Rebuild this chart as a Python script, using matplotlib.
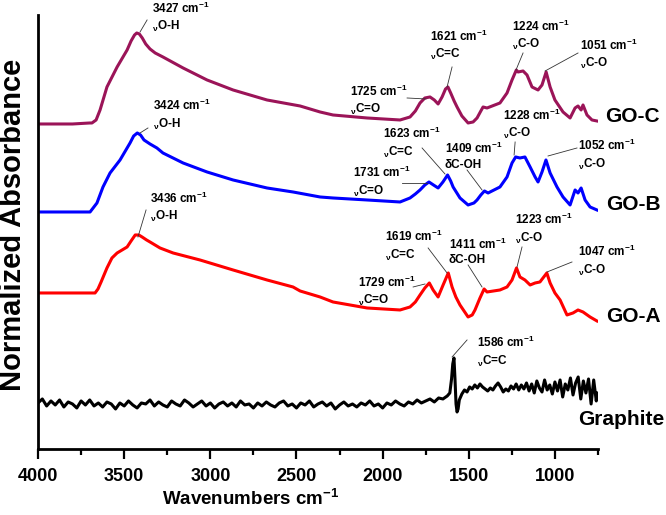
import matplotlib
matplotlib.use("Agg")
import matplotlib.pyplot as plt

plt.rcParams['font.family'] = ['Liberation Sans', 'DejaVu Sans']
plt.rcParams['font.weight'] = 'bold'
plt.rcParams['mathtext.fontset'] = 'custom'
plt.rcParams['mathtext.rm'] = 'Liberation Sans:bold'
plt.rcParams['mathtext.it'] = 'Liberation Sans:bold'
plt.rcParams['mathtext.bf'] = 'Liberation Sans:bold'

# Spectra (wavenumber in cm-1, stacked normalized absorbance)
goc_wn = [4000, 3800, 3700, 3687, 3663, 3640, 3600, 3541, 3483, 3460, 3440, 3427,
          3412, 3395, 3375, 3350, 3320, 3275, 3158, 3019, 2868, 2671, 2479, 2363,
          2288, 2090, 1899, 1841, 1810, 1783, 1755, 1725, 1700, 1678, 1655, 1635,
          1621, 1605, 1585, 1568, 1540, 1504, 1475, 1452, 1430, 1417, 1394, 1319,
          1278, 1249, 1224, 1214, 1185, 1162, 1133, 1098, 1075, 1051, 1028, 1000,
          953, 912, 883, 866, 848, 837, 814, 785, 756]
goc_abs = [32.5, 32.5, 32.6, 32.6, 32.9, 33.9, 36.2, 38.2, 39.9, 40.8, 41.4, 41.6,
           41.5, 41.1, 40.5, 40.0, 39.6, 39.2, 38.1, 36.9, 35.9, 34.9, 34.3, 33.7,
           33.4, 33.1, 32.9, 33.2, 33.8, 34.6, 35.1, 35.2, 34.9, 34.5, 35.2, 36.0,
           36.2, 35.6, 34.8, 34.2, 33.3, 32.6, 32.7, 33.1, 33.8, 34.2, 34.1, 34.6,
           35.6, 36.9, 37.9, 37.7, 37.8, 37.4, 36.2, 35.9, 36.4, 37.7, 36.2, 34.9,
           33.7, 33.1, 34.1, 34.3, 33.9, 34.4, 33.4, 32.9, 32.8]

gob_wn = [4000, 3800, 3698, 3658, 3623, 3582, 3524, 3466, 3445, 3424, 3405, 3385,
          3350, 3310, 3275, 3158, 3019, 2868, 2671, 2520, 2363, 2288, 2090, 1899,
          1841, 1810, 1783, 1755, 1731, 1705, 1678, 1650, 1623, 1605, 1591, 1551,
          1504, 1470, 1452, 1430, 1409, 1388, 1319, 1278, 1249, 1228, 1203, 1174,
          1144, 1115, 1098, 1075, 1052, 1028, 988, 953, 912, 883, 866, 848, 825,
          796, 756]
gob_abs = [23.7, 23.7, 23.7, 24.6, 26.2, 27.6, 28.9, 30.6, 31.3, 31.6, 31.4, 30.9,
           30.5, 30.1, 29.6, 28.6, 27.7, 26.9, 26.1, 25.7, 25.2, 25.1, 24.9, 24.7,
           25.1, 25.5, 25.9, 26.4, 26.7, 26.4, 26.1, 26.7, 27.4, 26.8, 26.2, 25.1,
           24.4, 24.6, 24.9, 25.4, 25.8, 25.6, 26.2, 27.2, 28.6, 29.2, 29.1, 29.2,
           28.2, 27.2, 26.7, 27.7, 28.9, 27.6, 26.2, 25.2, 24.4, 25.9, 25.6, 26.1,
           24.9, 24.2, 23.9]

goa_wn = [4000, 3800, 3669, 3652, 3634, 3617, 3600, 3571, 3541, 3483, 3460, 3436,
          3415, 3396, 3370, 3350, 3292, 3216, 3060, 2868, 2671, 2520, 2479, 2363,
          2288, 2090, 1899, 1841, 1810, 1783, 1755, 1729, 1707, 1678, 1649, 1619,
          1597, 1575, 1551, 1504, 1480, 1464, 1435, 1411, 1394, 1319, 1278, 1249,
          1223, 1203, 1174, 1144, 1115, 1087, 1047, 1028, 1000, 970, 930, 895,
          866, 837, 796, 756]
goa_abs = [15.6, 15.6, 15.6, 16.0, 16.7, 17.4, 18.1, 19.1, 19.6, 20.2, 20.8, 21.4,
           21.4, 21.2, 20.9, 20.7, 20.1, 19.6, 18.9, 17.9, 16.9, 16.2, 15.8, 15.2,
           14.7, 14.1, 13.9, 14.2, 14.7, 15.4, 16.1, 16.6, 15.9, 15.2, 16.4, 17.6,
           16.2, 15.2, 14.4, 13.2, 13.4, 13.9, 15.1, 16.0, 15.7, 15.9, 16.2, 16.9,
           18.1, 17.2, 16.9, 16.4, 16.6, 16.7, 17.6, 16.6, 15.6, 14.9, 13.4, 13.6,
           13.9, 13.7, 13.2, 12.8]

gr_wn = [4000, 3975, 3950, 3925, 3900, 3875, 3850, 3825, 3800, 3775, 3750, 3725,
         3700, 3675, 3650, 3625, 3600, 3575, 3550, 3525, 3500, 3475, 3450, 3425,
         3400, 3375, 3350, 3325, 3300, 3275, 3250, 3225, 3200, 3175, 3150, 3125,
         3100, 3075, 3050, 3025, 3000, 2975, 2950, 2925, 2900, 2875, 2850, 2825,
         2800, 2775, 2750, 2725, 2700, 2675, 2650, 2625, 2600, 2575, 2550, 2525,
         2500, 2475, 2450, 2425, 2400, 2375, 2350, 2325, 2300, 2275, 2250, 2225,
         2200, 2175, 2150, 2125, 2100, 2075, 2050, 2025, 2000, 1975, 1950, 1925,
         1900, 1875, 1850, 1825, 1800, 1775, 1750, 1725, 1700, 1675, 1650, 1625,
         1610, 1600, 1593, 1586, 1580, 1574, 1568, 1562, 1555, 1540, 1525, 1510,
         1495, 1480, 1465, 1450, 1435, 1420, 1405, 1390, 1375, 1360, 1345, 1330,
         1315, 1300, 1285, 1270, 1255, 1240, 1225, 1210, 1195, 1180, 1165, 1150,
         1135, 1120, 1105, 1090, 1075, 1060, 1045, 1030, 1015, 1000, 985, 970,
         955, 940, 925, 910, 895, 880, 865, 850, 835, 820, 805, 790, 775, 760, 755]
gr_abs = [4.6, 5.0, 4.3, 4.8, 4.4, 4.9, 4.2, 4.7, 4.5, 4.1, 4.8, 4.4,
          4.9, 4.3, 4.6, 4.2, 4.7, 4.5, 4.0, 4.6, 4.3, 4.8, 4.4, 4.1,
          4.6, 4.5, 4.9, 4.3, 4.7, 4.4, 4.2, 4.8, 4.5, 4.3, 4.9, 4.6,
          4.2, 4.5, 4.8, 4.3, 4.6, 4.1, 4.5, 4.7, 4.3, 4.6, 4.2, 4.8,
          4.4, 4.5, 4.1, 4.6, 4.3, 4.7, 4.4, 4.2, 4.6, 4.8, 4.3, 4.5,
          4.1, 4.6, 4.4, 4.8, 4.2, 4.5, 4.7, 4.3, 4.6, 4.0, 4.4, 4.7,
          4.3, 4.5, 4.2, 4.6, 4.4, 4.8, 4.3, 4.5, 4.1, 4.6, 4.4, 4.8,
          4.5, 4.3, 4.7, 4.5, 4.9, 4.6, 4.8, 5.0, 4.7, 5.1, 5.0, 5.3,
          5.6, 7.0, 8.5, 9.1, 7.0, 4.5, 3.7, 4.0, 4.9, 5.5, 5.9, 5.7,
          6.2, 6.0, 6.4, 6.1, 6.5, 6.2, 6.0, 5.8, 6.1, 5.9, 6.3, 6.6,
          6.2, 5.7, 6.0, 5.8, 6.3, 6.0, 6.5, 5.9, 6.4, 6.0, 6.6, 5.8,
          6.5, 5.6, 6.8, 6.1, 5.7, 6.9, 5.9, 6.4, 5.5, 6.7, 5.8, 6.9,
          5.2, 6.5, 5.9, 7.1, 5.4, 6.6, 7.2, 5.0, 6.8, 5.6, 7.0, 4.5, 6.9, 4.8, 5.6]

spectra = [
    (goc_wn, goc_abs, '#9b1458', 'GO-C'),
    (gob_wn, gob_abs, '#0000ff', 'GO-B'),
    (goa_wn, goa_abs, '#ff0000', 'GO-A'),
    (gr_wn, gr_abs, '#000000', 'Graphite'),
]

# sample name positions (wavenumber, absorbance)
name_pos = [(709, 33.2), (703, 24.4), (703, 13.2), (866, 2.9)]

# peak labels: (number, group, text position, leader start, leader end)
peaks = [
    ('3427', r'$_{\nu}$O-H', (3338, 43.15), (3367, 42.9), (3408, 41.7)),
    ('1621', r'$_{\nu}$C=C', (1725, 40.35), (1597, 38.2), (1626, 36.2)),
    ('1725', r'$_{\nu}$C=O', (2189, 34.85), (1858, 35.1), (1748, 35.0)),
    ('1224', r'$_{\nu}$C-O', (1249, 41.35), (1185, 39.6), (1226, 37.9)),
    ('1051', r'$_{\nu}$C-O', (854, 39.45), (866, 39.6), (1057, 37.8)),
    ('3424', r'$_{\nu}$O-H', (3333, 33.4), (3362, 32.1), (3408, 31.6)),
    ('1731', r'$_{\nu}$C=O', (2172, 26.7), (1887, 26.6), (1742, 26.6)),
    ('1623', r'$_{\nu}$C=C', (1998, 30.6), (1771, 30.1), (1638, 27.5)),
    ('1409', 'δC-OH', (1638, 29.3), (1510, 27.9), (1423, 25.9)),
    ('1228', r'$_{\nu}$C-O', (1301, 32.45), (1231, 30.7), (1237, 29.4)),
    ('1052', r'$_{\nu}$C-O', (866, 29.4), (872, 30.1), (1040, 29.3)),
    ('3436', r'$_{\nu}$O-H', (3350, 24.15), (3373, 23.9), (3420, 21.2)),
    ('1729', r'$_{\nu}$C=O', (2143, 15.75), (1823, 16.2), (1754, 16.5)),
    ('1619', r'$_{\nu}$C=C', (1986, 20.3), (1736, 20.1), (1626, 17.6)),
    ('1411', 'δC-OH', (1615, 19.75), (1504, 18.4), (1423, 16.2)),
    ('1223', r'$_{\nu}$C-O', (1231, 22.0), (1191, 20.2), (1220, 18.2)),
    ('1047', r'$_{\nu}$C-O', (866, 18.8), (901, 18.7), (1046, 17.7)),
    ('1586', r'$_{\nu}$C=C', (1452, 9.7), (1510, 10.9), (1597, 9.2)),
]

fig = plt.figure(figsize=(6.66, 5.15), dpi=100)
ax = fig.add_axes([0.0571, 0.1282, 0.8408, 0.8427])

for wn, ab, col, name in spectra:
    ax.plot(wn, ab, color=col, lw=2.2, solid_joinstyle='round')

for (wn, ab, col, name), (x, y) in zip(spectra, name_pos):
    ax.text(x, y, name, fontsize=15, fontweight='bold', ha='left', va='center',
            clip_on=False)

for num, grp, tpos, p0, p1 in peaks:
    ax.text(tpos[0], tpos[1], num + r' cm$^{-1}$' + '\n' + grp, fontsize=8.5,
            fontweight='bold', ha='left', va='center', linespacing=1.3,
            clip_on=False)
    ax.plot([p0[0], p1[0]], [p0[1], p1[1]], color='#333333', lw=0.6)

ax.set_xlim(4000, 750)
ax.set_ylim(0, 43.4)
ax.set_xticks([4000, 3500, 3000, 2500, 2000, 1500, 1000])
ax.set_xticks([3750, 3250, 2750, 2250, 1750, 1250, 750], minor=True)
ax.tick_params(axis='x', which='major', length=7, width=1.6, labelsize=13, pad=7)
ax.tick_params(axis='x', which='minor', length=4, width=1.6)
ax.set_yticks([])
for s in ['top', 'right']:
    ax.spines[s].set_visible(False)
for s in ['left', 'bottom']:
    ax.spines[s].set_linewidth(2.0)

ax.set_xlabel(r'Wavenumbers cm$^{-1}$', fontsize=13.5, fontweight='bold')
ax.xaxis.set_label_coords(0.38, -0.093)
ax.set_ylabel('Normalized Absorbance', fontsize=21, fontweight='bold')
ax.yaxis.set_label_coords(-0.02, 0.516)

fig.savefig('out.png', dpi=100)
